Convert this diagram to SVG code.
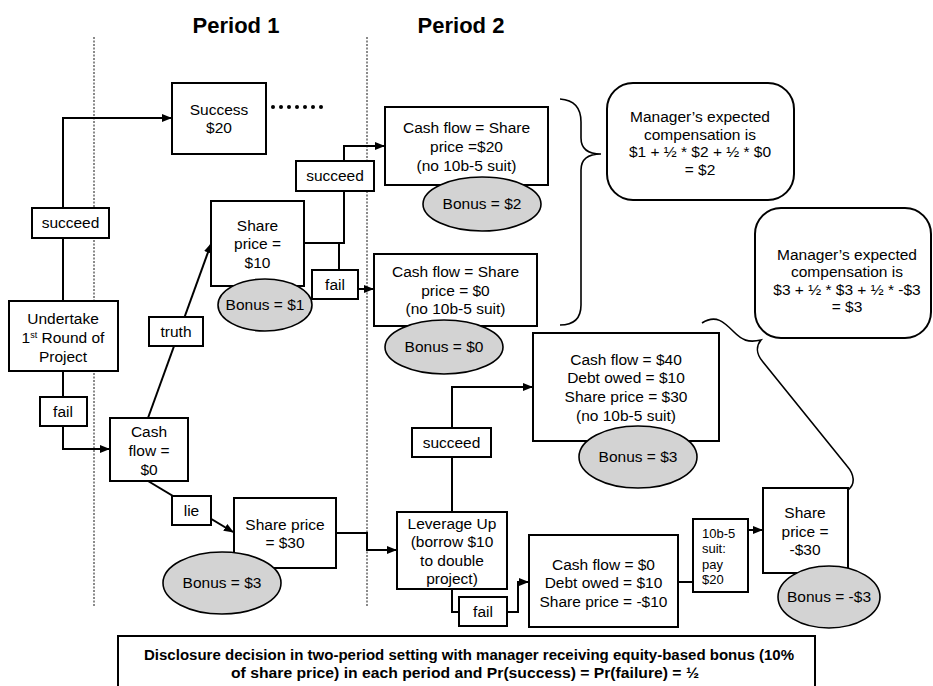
<svg xmlns="http://www.w3.org/2000/svg" width="933" height="686" viewBox="0 0 933 686">
<style>
.box{fill:#fff;stroke:#000;stroke-width:2}
.lbl{fill:#fff;stroke:#000;stroke-width:2}
.ell{fill:#d3d3d3;stroke:#000;stroke-width:1.6}
.ln{fill:none;stroke:#000;stroke-width:2}
.thin{fill:none;stroke:#000;stroke-width:1.6}
.dot{fill:none;stroke:#8a8a8a;stroke-width:2;stroke-dasharray:2 1.5}
text{font-family:"Liberation Sans",Arial,sans-serif;font-size:15.5px;fill:#000;text-anchor:middle}
.t{font-weight:bold;font-size:22px}
.cap{font-weight:bold;font-size:14px}
.sm{font-size:13px;text-anchor:start}
</style>
<defs>
<marker id="ar" markerWidth="10" markerHeight="8" refX="9" refY="4" orient="auto" markerUnits="userSpaceOnUse">
<path d="M0,0 L10,4 L0,8 Z" fill="#000"/>
</marker>
</defs>
<rect width="933" height="686" fill="#fff"/>

<g id="titles">
<text class="t" x="236" y="33">Period 1</text>
<text class="t" x="461" y="33">Period 2</text>
</g>
<g id="dividers">
<line class="dot" x1="94" y1="37" x2="94" y2="606"/>
<line class="dot" x1="367" y1="37" x2="367" y2="606"/>
</g>

<g id="connectors">
<path class="ln" d="M63,301 V118 H171" marker-end="url(#ar)"/>
<path class="ln" d="M63,371 V449 H109" marker-end="url(#ar)"/>
<path class="ln" d="M148,418 L211,244" marker-end="url(#ar)"/>
<path class="ln" d="M148,481 L233,532" marker-end="url(#ar)"/>
<path class="ln" d="M304,243 H344 V146 H384" marker-end="url(#ar)"/>
<path class="ln" d="M339,243 V271"/>
<path class="ln" d="M358,289 H373" marker-end="url(#ar)"/>
<path class="ln" d="M336,533 H367 V550 H396" marker-end="url(#ar)"/>
<path class="ln" d="M452,512 V387 H532" marker-end="url(#ar)"/>
<path class="ln" d="M452,589 V612 H460"/>
<path class="ln" d="M507,612 H518 V582 H528" marker-end="url(#ar)"/>
<path class="ln" d="M678,582 H693"/>
<path class="ln" d="M748,530 H762" marker-end="url(#ar)"/>
<path class="thin" d="M560,99 C575,100 581,108 581,122 V138 C581,150 590,154 601,154 C590,154 581,158 581,170 V305 C581,318 575,325 560,325"/>
<path class="thin" d="M702,323 C716,314 724,322 734,332 C742,340 748,343 761,340 C756,346 756,354 763,362 L847,466 C854,474 856,484 848,490"/>
<g id="dots" fill="#000">
<circle cx="273" cy="107" r="2"/><circle cx="281" cy="107" r="2"/><circle cx="289" cy="107" r="2"/><circle cx="297" cy="107" r="2"/><circle cx="305" cy="107" r="2"/><circle cx="313" cy="107" r="2"/><circle cx="321" cy="107" r="2"/>
</g>
</g>

<g id="lbl-succeed1"><rect class="lbl" x="32" y="208" width="77" height="30"/><text x="70.5" y="228">succeed</text></g>
<g id="lbl-fail1"><rect class="lbl" x="40" y="397" width="47" height="29"/><text x="63" y="417">fail</text></g>
<g id="lbl-truth"><rect class="lbl" x="149" y="317" width="54" height="29"/><text x="176" y="337">truth</text></g>
<g id="lbl-lie"><rect class="lbl" x="172" y="496" width="39" height="29"/><text x="191.5" y="516">lie</text></g>
<g id="lbl-succeed2"><rect class="lbl" x="296" y="161" width="78" height="30"/><text x="335" y="181">succeed</text></g>
<g id="lbl-fail2"><rect class="lbl" x="312" y="270" width="46" height="29"/><text x="335" y="290">fail</text></g>
<g id="lbl-succeed3"><rect class="lbl" x="412" y="428" width="79" height="29"/><text x="451.5" y="448">succeed</text></g>
<g id="lbl-fail3"><rect class="lbl" x="459" y="597" width="48" height="29"/><text x="483" y="617">fail</text></g>

<g id="undertake">
<rect class="box" x="9" y="301" width="109" height="70"/>
<text x="63" y="324">Undertake</text>
<text x="63" y="343">1<tspan font-size="9" dy="-5">st</tspan><tspan dy="5"> Round of</tspan></text>
<text x="63" y="362">Project</text>
</g>
<g id="success">
<rect class="box" x="172" y="83" width="94" height="71"/>
<text x="219" y="115">Success</text>
<text x="219" y="133">$20</text>
</g>
<g id="cashflow0">
<rect class="box" x="110" y="418" width="78" height="63"/>
<text x="149" y="437">Cash</text>
<text x="149" y="456">flow =</text>
<text x="149" y="475">$0</text>
</g>
<g id="share10">
<rect class="box" x="211" y="201" width="93" height="85"/>
<text x="257.5" y="231">Share</text>
<text x="257.5" y="249">price =</text>
<text x="257.5" y="268">$10</text>
<ellipse class="ell" cx="265" cy="305" rx="47" ry="26"/>
<text x="265" y="310">Bonus = $1</text>
</g>
<g id="share30">
<rect class="box" x="234" y="498" width="102" height="70"/>
<text x="285" y="530">Share price</text>
<text x="285" y="548">= $30</text>
<ellipse class="ell" cx="222" cy="583" rx="59" ry="31"/>
<text x="222" y="588">Bonus = $3</text>
</g>
<g id="cfsp20">
<rect class="box" x="385" y="107" width="163" height="78"/>
<text x="466.5" y="133">Cash flow = Share</text>
<text x="466.5" y="152">price =$20</text>
<text x="466.5" y="171">(no 10b-5 suit)</text>
<ellipse class="ell" cx="482" cy="204" rx="59" ry="27"/>
<text x="482" y="209">Bonus = $2</text>
</g>
<g id="cfsp0">
<rect class="box" x="374" y="254" width="163" height="72"/>
<text x="455.5" y="277">Cash flow = Share</text>
<text x="455.5" y="296">price = $0</text>
<text x="455.5" y="314">(no 10b-5 suit)</text>
<ellipse class="ell" cx="444" cy="347" rx="59" ry="27"/>
<text x="444" y="352">Bonus = $0</text>
</g>
<g id="callout1">
<rect class="box" x="607" y="83" width="187" height="117" rx="26"/>
<text x="700" y="122">Manager’s expected</text>
<text x="700" y="140">compensation is</text>
<text x="700" y="157">$1 + ½ * $2 + ½ * $0</text>
<text x="700" y="175">= $2</text>
</g>
<g id="callout2">
<rect class="box" x="755" y="208" width="176" height="130" rx="26"/>
<text x="847" y="260">Manager’s expected</text>
<text x="847" y="277">compensation is</text>
<text x="847" y="295">$3 + ½ * $3 + ½ * -$3</text>
<text x="847" y="312">= $3</text>
</g>
<g id="cf40">
<rect class="box" x="533" y="333" width="186" height="108"/>
<text x="626" y="365">Cash flow = $40</text>
<text x="626" y="383">Debt owed = $10</text>
<text x="626" y="402">Share price = $30</text>
<text x="626" y="421">(no 10b-5 suit)</text>
<ellipse class="ell" cx="638" cy="457" rx="59" ry="31"/>
<text x="638" y="462">Bonus = $3</text>
</g>
<g id="leverage">
<rect class="box" x="397" y="512" width="110" height="77"/>
<text x="452" y="529">Leverage Up</text>
<text x="452" y="547">(borrow $10</text>
<text x="452" y="566">to double</text>
<text x="452" y="584">project)</text>
</g>
<g id="cf0">
<rect class="box" x="529" y="535" width="149" height="92"/>
<text x="603.5" y="570">Cash flow = $0</text>
<text x="603.5" y="588">Debt owed = $10</text>
<text x="603.5" y="607">Share price = -$10</text>
</g>
<g id="suit">
<rect class="box" x="693" y="519" width="55" height="73"/>
<text class="sm" x="702" y="538">10b-5</text>
<text class="sm" x="702" y="553">suit:</text>
<text class="sm" x="702" y="569">pay</text>
<text class="sm" x="702" y="584">$20</text>
</g>
<g id="share-30">
<rect class="box" x="763" y="488" width="85" height="85"/>
<text x="805" y="518">Share</text>
<text x="805" y="537">price =</text>
<text x="805" y="555">-$30</text>
<ellipse class="ell" cx="829" cy="597" rx="51" ry="31"/>
<text x="829" y="602">Bonus = -$3</text>
</g>
<g id="caption">
<rect class="box" x="118" y="636" width="697" height="60"/>
<text class="cap" x="469" y="660" textLength="650" lengthAdjust="spacingAndGlyphs">Disclosure decision in two-period setting with manager receiving equity-based bonus (10%</text>
<text class="cap" x="465" y="678" textLength="468" lengthAdjust="spacingAndGlyphs">of share price) in each period and Pr(success) = Pr(failure) = ½</text>
</g>
</svg>
